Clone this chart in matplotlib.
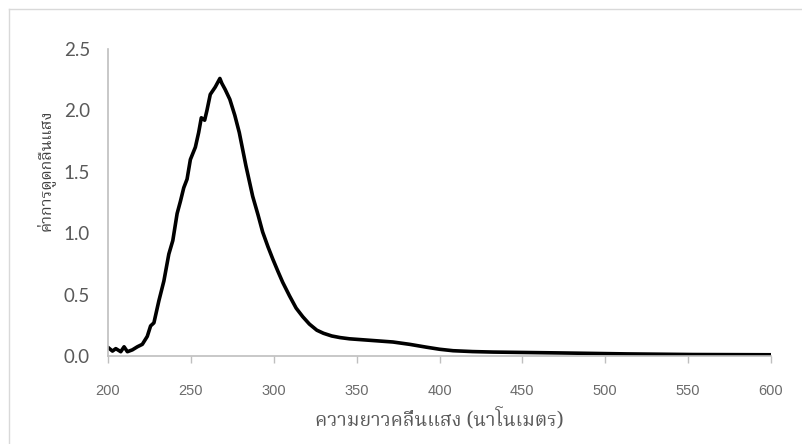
import matplotlib
matplotlib.use("Agg")
import matplotlib.pyplot as plt
from matplotlib import font_manager
from matplotlib.ft2font import FT2Font
from matplotlib.lines import Line2D

# absorbance spectrum, wavelength in nm
wavelength = [200, 202.7, 204.7, 207.7, 209.7, 211.7, 214.7, 217.7, 220.7, 223.7,
              225.7, 227.7, 230.7, 233.7, 236.7, 239.1, 241.7, 243.7, 245.7, 247.7,
              249.7, 252.7, 254.7, 256.3, 258.3, 259.7, 261.7, 264.7, 266.7, 267.5,
              268.7, 270.7, 273.5, 276.5, 279.2, 283.2, 287.3, 290.5, 293.3, 296.5,
              299.4, 302.5, 305.4, 309.5, 313.5, 317.5, 321.5, 326, 330, 335,
              340, 345.7, 357.8, 371.9, 382, 392, 400, 408.2, 420, 432.3,
              472.7, 513, 553, 600]
absorbance = [0.07, 0.04, 0.06, 0.035, 0.075, 0.035, 0.05, 0.075, 0.095, 0.16,
              0.245, 0.27, 0.45, 0.61, 0.83, 0.94, 1.16, 1.26, 1.37, 1.44,
              1.60, 1.70, 1.82, 1.94, 1.92, 2.00, 2.13, 2.19, 2.24, 2.26,
              2.22, 2.17, 2.09, 1.96, 1.82, 1.55, 1.30, 1.15, 1.01, 0.89,
              0.79, 0.69, 0.60, 0.49, 0.39, 0.32, 0.26, 0.21, 0.185, 0.163,
              0.15, 0.14, 0.128, 0.114, 0.095, 0.072, 0.055, 0.043, 0.036, 0.032,
              0.025, 0.017, 0.012, 0.01]

x_ticks = [200, 250, 300, 350, 400, 450, 500, 550, 600]
y_ticks = [0.0, 0.5, 1.0, 1.5, 2.0, 2.5]
x_title = "ความยาวคลื่นแสง (นาโนเมตร)"
y_title = "ค่าการดูดกลืนแสง"


def find_thai_font():
    preferred = ["Noto Serif Thai", "Noto Sans Thai", "Loma", "Garuda", "Norasi",
                 "Kinnari", "Sarabun", "TH Sarabun New"]
    found = []
    for entry in font_manager.fontManager.ttflist:
        try:
            if ord("ค") in FT2Font(entry.fname).get_charmap():
                found.append(entry.name)
        except Exception:
            continue
    for name in preferred:
        if name in found:
            return name
    if found:
        return found[0]
    return "DejaVu Sans"


thai_font = find_thai_font()

fig = plt.figure(figsize=(8.02, 4.44), dpi=100)
ax = fig.add_axes([108 / 802, 88 / 444, 663 / 802, 307 / 444])

ax.plot(wavelength, absorbance, color="black", linewidth=2.6,
        solid_joinstyle="round", solid_capstyle="round")

ax.set_xlim(200, 600)
ax.set_ylim(0, 2.5)
ax.set_xticks(x_ticks)
ax.set_yticks(y_ticks)
ax.set_yticklabels(["%.1f" % v for v in y_ticks])

for side in ["top", "right"]:
    ax.spines[side].set_visible(False)
for side in ["left", "bottom"]:
    ax.spines[side].set_color("#bfbfbf")
    ax.spines[side].set_linewidth(1.2)

ax.tick_params(axis="x", direction="out", length=5, width=1.0, color="#bfbfbf",
               pad=15, labelsize=10.5, labelcolor="#6b6b6b")
ax.tick_params(axis="y", length=0, pad=13, labelsize=13.5, labelcolor="#595959")
for lbl in ax.get_xticklabels():
    lbl.set_family(["Liberation Sans", "DejaVu Sans"])
for lbl in ax.get_yticklabels():
    lbl.set_family(["Lato", "DejaVu Sans"])

ax.set_xlabel(x_title, family=[thai_font, "DejaVu Sans"], fontsize=14, color="#595959")
ax.xaxis.set_label_coords(0.5, -0.17)
ax.set_ylabel(y_title, family=[thai_font, "DejaVu Sans"], fontsize=11.5, color="#404040")
ax.yaxis.set_label_coords(-0.08, 0.606)

# light frame around the chart area
fig.add_artist(Line2D([9 / 802, 9 / 802], [0, 1 - 9 / 444], color="#d9d9d9",
                      linewidth=1.0, transform=fig.transFigure))
fig.add_artist(Line2D([9 / 802, 1], [1 - 9 / 444, 1 - 9 / 444], color="#d9d9d9",
                      linewidth=1.0, transform=fig.transFigure))

fig.savefig("out.png", dpi=100)
